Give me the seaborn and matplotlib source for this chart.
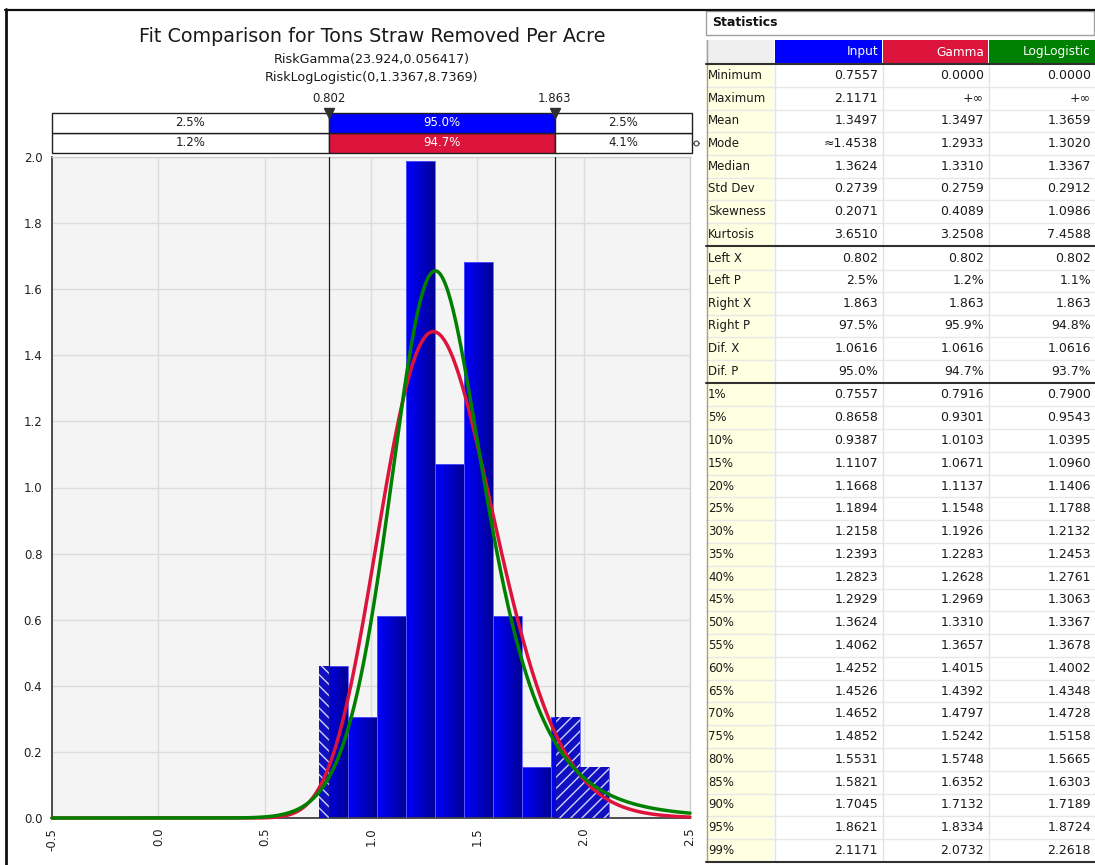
import math
import numpy as np
import pandas as pd
import matplotlib
matplotlib.use("Agg")
import matplotlib.pyplot as plt
from matplotlib.patches import Rectangle
from matplotlib.colors import LinearSegmentedColormap
import seaborn as sns

# ---------------- data ----------------
bin_edges = [0.7557, 0.8918, 1.0280, 1.1641, 1.3003, 1.4364, 1.5725, 1.7087, 1.8448, 1.9810, 2.1171]
densities = [0.459, 0.306, 0.612, 1.989, 1.071, 1.683, 0.612, 0.153, 0.306, 0.153]

gamma_shape, gamma_scale = 23.924, 0.056417
loglog_loc, loglog_beta, loglog_alpha = 0.0, 1.3367, 8.7369

left_x, right_x = 0.802, 1.863
input_band = ["2.5%", "95.0%", "2.5%"]
gamma_band = ["1.2%", "94.7%", "4.1%"]

x_ticks = [-0.5, 0.0, 0.5, 1.0, 1.5, 2.0, 2.5]
y_ticks = [0.0, 0.2, 0.4, 0.6, 0.8, 1.0, 1.2, 1.4, 1.6, 1.8, 2.0]

series_names = ["Input", "Gamma", "LogLogistic"]
series_colors = ["#0000FF", "#DC143C", "#008000"]

summary_labels = ["Minimum", "Maximum", "Mean", "Mode", "Median", "Std Dev", "Skewness", "Kurtosis"]
summary_input = ["0.7557", "2.1171", "1.3497", "\u22481.4538", "1.3624", "0.2739", "0.2071", "3.6510"]
summary_gamma = ["0.0000", "+\u221e", "1.3497", "1.2933", "1.3310", "0.2759", "0.4089", "3.2508"]
summary_loglog = ["0.0000", "+\u221e", "1.3659", "1.3020", "1.3367", "0.2912", "1.0986", "7.4588"]

target_labels = ["Left X", "Left P", "Right X", "Right P", "Dif. X", "Dif. P"]
target_input = ["0.802", "2.5%", "1.863", "97.5%", "1.0616", "95.0%"]
target_gamma = ["0.802", "1.2%", "1.863", "95.9%", "1.0616", "94.7%"]
target_loglog = ["0.802", "1.1%", "1.863", "94.8%", "1.0616", "93.7%"]

pct_labels = ["1%", "5%", "10%", "15%", "20%", "25%", "30%", "35%", "40%", "45%", "50%",
              "55%", "60%", "65%", "70%", "75%", "80%", "85%", "90%", "95%", "99%"]
pct_input = ["0.7557", "0.8658", "0.9387", "1.1107", "1.1668", "1.1894", "1.2158", "1.2393",
             "1.2823", "1.2929", "1.3624", "1.4062", "1.4252", "1.4526", "1.4652", "1.4852",
             "1.5531", "1.5821", "1.7045", "1.8621", "2.1171"]
pct_gamma = ["0.7916", "0.9301", "1.0103", "1.0671", "1.1137", "1.1548", "1.1926", "1.2283",
             "1.2628", "1.2969", "1.3310", "1.3657", "1.4015", "1.4392", "1.4797", "1.5242",
             "1.5748", "1.6352", "1.7132", "1.8334", "2.0732"]
pct_loglog = ["0.7900", "0.9543", "1.0395", "1.0960", "1.1406", "1.1788", "1.2132", "1.2453",
              "1.2761", "1.3063", "1.3367", "1.3678", "1.4002", "1.4348", "1.4728", "1.5158",
              "1.5665", "1.6303", "1.7189", "1.8724", "2.2618"]

# ---------------- style ----------------
sns.set_theme(style="white")
plt.rcParams['font.family'] = ['DejaVu Sans']
plt.rcParams['hatch.linewidth'] = 1.0

W, H = 1095, 865
fig = plt.figure(figsize=(W / 100, H / 100), dpi=100)
fig.patch.set_facecolor("white")


def px_axes(x0, y0, x1, y1):
    return fig.add_axes([x0 / W, 1 - y1 / H, (x1 - x0) / W, (y1 - y0) / H])


XL, XR, YT, YB = 52, 690, 157, 818
ax = px_axes(XL, YT, XR, YB)
ax.set_facecolor("#F4F4F4")

# histogram of the input data (bar heights are densities)
centers = [(a + b) / 2 for a, b in zip(bin_edges[:-1], bin_edges[1:])]
hist_df = pd.DataFrame({"x": centers, "w": densities})
sns.histplot(data=hist_df, x="x", weights="w", bins=bin_edges, stat="count",
             color="#0000FF", alpha=1.0, linewidth=0, ax=ax, zorder=2)

blue_grad = LinearSegmentedColormap.from_list("bluegrad", ["#0000FF", "#000096"])
grad = np.linspace(0, 1, 64).reshape(1, -1)
bars = list(ax.patches)
for p in bars:
    bx, bw, bh = p.get_x(), p.get_width(), p.get_height()
    p.set_facecolor("none")
    p.set_edgecolor("#5a5aff")
    p.set_linewidth(0.6)
    p.set_zorder(3)
    im = ax.imshow(grad, extent=[bx, bx + bw, 0, bh], aspect="auto", cmap=blue_grad,
                   origin="lower", zorder=2, interpolation="bilinear")
    im.set_clip_path(p)

# hatched tails outside the delimiters
for p in bars:
    bx, bw, bh = p.get_x(), p.get_width(), p.get_height()
    x0, x1 = bx, bx + bw
    if x0 < left_x:
        ax.add_patch(Rectangle((x0, 0), min(x1, left_x) - x0, bh, facecolor="#1010C0",
                               edgecolor="#D0D0FF", hatch="\\\\\\", linewidth=0, zorder=3))
    if x1 > right_x:
        s = max(x0, right_x)
        ax.add_patch(Rectangle((s, 0), x1 - s, bh, facecolor="#1010C0",
                               edgecolor="#D0D0FF", hatch="///", linewidth=0, zorder=3))

# delimiter lines
for xv in (left_x, right_x):
    ax.axvline(xv, color="#202020", lw=0.9, zorder=4)

# fitted densities
xs = np.linspace(-0.5, 2.5, 1500)
gamma_pdf = np.zeros_like(xs)
pos = xs > 0
lg = (gamma_shape - 1) * np.log(xs[pos]) - xs[pos] / gamma_scale \
    - math.lgamma(gamma_shape) - gamma_shape * math.log(gamma_scale)
gamma_pdf[pos] = np.exp(lg)
loglog_pdf = np.zeros_like(xs)
z = (xs[pos] - loglog_loc) / loglog_beta
loglog_pdf[pos] = (loglog_alpha / loglog_beta) * z ** (loglog_alpha - 1) / (1 + z ** loglog_alpha) ** 2

curves = pd.DataFrame({"x": xs, "gamma": gamma_pdf, "loglog": loglog_pdf})
sns.lineplot(data=curves, x="x", y="gamma", color=series_colors[1], lw=2.5,
             estimator=None, sort=False, ax=ax, zorder=5, clip_on=False)
sns.lineplot(data=curves, x="x", y="loglog", color=series_colors[2], lw=2.5,
             estimator=None, sort=False, ax=ax, zorder=6, clip_on=False)

ax.set_xlim(-0.5, 2.5)
ax.set_ylim(0, 2.0)
ax.set_xticks(x_ticks)
ax.set_yticks(y_ticks)
ax.set_xticklabels([f"{v:.1f}" for v in x_ticks], rotation=90, fontsize=8.5, color="#202020")
ax.set_yticklabels([f"{v:.1f}" for v in y_ticks], fontsize=8.5, color="#202020")
ax.set_xlabel("")
ax.set_ylabel("")
ax.grid(True, color="#DCDCDC", lw=1.0)
ax.set_axisbelow(True)
ax.tick_params(axis="both", direction="out", length=4, width=1, color="#404040", pad=3)
for side in ("left", "bottom"):
    ax.spines[side].set_color("#404040")
    ax.spines[side].set_linewidth(1.3)
for side in ("top", "right"):
    ax.spines[side].set_color("#D0D0D0")
    ax.spines[side].set_linewidth(1.0)

# probability band above the plot
band = px_axes(XL, 113, 692, 153)
band.set_xlim(-0.5, 2.5 + 2 / 638 * 3)
band.set_ylim(0, 2)
band.axis("off")
segments = [(-0.5, left_x), (left_x, right_x), (right_x, 2.5 + 2 / 638 * 3)]
for row, (labels, mid_color) in enumerate([(gamma_band, series_colors[1]), (input_band, series_colors[0])]):
    for i, ((a, b), lab) in enumerate(zip(segments, labels)):
        fc = mid_color if i == 1 else "white"
        band.add_patch(Rectangle((a, row), b - a, 1, facecolor=fc, edgecolor="#202020",
                                 lw=1.0, clip_on=False))
        band.text((a + b) / 2, row + 0.5, lab, ha="center", va="center", fontsize=8.5,
                  color="white" if i == 1 else "#202020")
for xv in (left_x, right_x):
    band.plot([xv], [2], marker="v", markersize=7.5, color="#303030", clip_on=False, zorder=5)
    band.annotate(f"{xv:.3f}", xy=(xv, 2), xytext=(0, 6), textcoords="offset points",
                  ha="center", va="bottom", fontsize=8.5, color="#202020")

# overlay for titles, frame and the statistics grid (pixel coordinates)
ov = fig.add_axes([0, 0, 1, 1])
ov.set_xlim(0, W)
ov.set_ylim(H, 0)
ov.axis("off")
ov.patch.set_alpha(0)

ov.text(372, 37, "Fit Comparison for Tons Straw Removed Per Acre", ha="center", va="center",
        fontsize=13.8, color="#1a1a1a")
ov.text(372, 60, f"RiskGamma({gamma_shape},{gamma_scale})", ha="center", va="center",
        fontsize=9.2, color="#1a1a1a")
ov.text(372, 78, f"RiskLogLogistic({loglog_loc:g},{loglog_beta},{loglog_alpha})", ha="center",
        va="center", fontsize=9.2, color="#1a1a1a")

# outer frame
ov.plot([5, W], [9.5, 9.5], color="#101010", lw=1.6)
ov.plot([5.5, 5.5], [9, H], color="#101010", lw=2.0)

# small drag handle at end of band
ov.plot([692, 699], [143, 143], color="#404040", lw=1.0)
ov.plot([696], [143], marker="o", markersize=3.5, markerfacecolor="white",
        markeredgecolor="#404040", markeredgewidth=0.8)

# statistics grid
TX0, TX1 = 706, W
LAB1 = 774
cols = [(775, 882), (883, 988), (989, 1095)]

ov.add_patch(Rectangle((TX0, 11), TX1 - TX0 - 1, 24, facecolor="white", edgecolor="#A0A0A0", lw=1.0))
ov.text(712, 23, "Statistics", ha="left", va="center", fontsize=9, fontweight="bold", color="#101010")

ov.add_patch(Rectangle((TX0, 40), LAB1 - TX0, 23, facecolor="#EFEFEF", edgecolor="none"))
for (c0, c1), name, colr in zip(cols, series_names, series_colors):
    ov.add_patch(Rectangle((c0, 40), c1 - c0, 23, facecolor=colr, edgecolor="none"))
    ov.text(c1 - 4, 52, name, ha="right", va="center", fontsize=8.7, color="white")

blocks = [
    (summary_labels, [summary_input, summary_gamma, summary_loglog], 64.5, 22.6),
    (target_labels, [target_input, target_gamma, target_loglog], 247.0, 22.55),
    (pct_labels, [pct_input, pct_gamma, pct_loglog], 383.5, 22.78),
]
ov.add_patch(Rectangle((TX0, 63), LAB1 - TX0, 862 - 63, facecolor="#FFFFE1", edgecolor="none"))
seps = [63.5]
for labels, values, top, rh in blocks:
    for i, lab in enumerate(labels):
        yc = top + rh * (i + 0.5)
        ov.text(708, yc, lab, ha="left", va="center", fontsize=8.5, color="#1a1a1a")
        for (c0, c1), col in zip(cols, values):
            ov.text(c1 - 4, yc, col[i], ha="right", va="center", fontsize=9.0, color="#1a1a1a")
        if i < len(labels) - 1:
            ov.plot([TX0, TX1], [top + rh * (i + 1)] * 2, color="#E8E8E8", lw=1.0, zorder=1)
    seps.append(top + rh * len(labels) + 0.5)
for xv in (LAB1 + 0.5, 882.5, 988.5):
    ov.plot([xv, xv], [64, 861], color="#E2E2E2", lw=1.0, zorder=1)
ov.plot([TX0 + 0.5, TX0 + 0.5], [40, 862], color="#A0A0A0", lw=1.0)
for yv in seps:
    ov.plot([TX0, TX1], [yv, yv], color="#303030", lw=1.5, zorder=3)

fig.savefig("out.png", dpi=100, facecolor="white")
